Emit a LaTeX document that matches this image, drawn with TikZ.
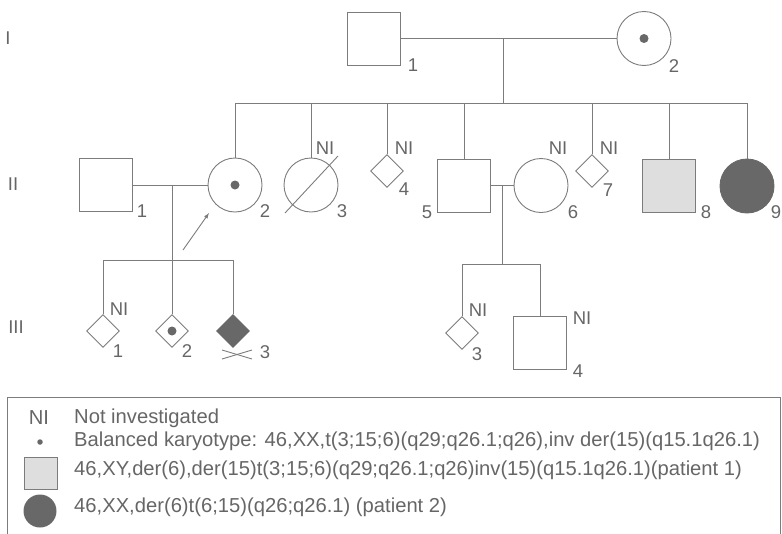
\documentclass[tikz,border=0pt]{standalone}
\usepackage{fontspec}
\setmainfont{Liberation Sans}
\usetikzlibrary{positioning,shapes.geometric}

\definecolor{pedline}{HTML}{7C7C7C}
\definecolor{pedtext}{HTML}{666666}
\definecolor{peddark}{HTML}{686868}
\definecolor{pedgrey}{HTML}{DEDEDE}

\tikzset{
  pedsquare/.style={draw=pedline, line width=0.9pt, rectangle,
    minimum size=53pt, inner sep=0pt},
  pedcircle/.style={draw=pedline, line width=0.9pt, circle,
    minimum size=54pt, inner sep=0pt},
  peddiamond/.style={draw=pedline, line width=0.9pt, diamond,
    minimum size=33pt, inner sep=0pt},
  carrier/.style={path picture={
    \fill[peddark] (path picture bounding box.center) circle (4.5pt);}},
  affected/.style={fill=peddark, draw=peddark},
  num/.style={font=\fontsize{18.5}{20}\selectfont, text=pedtext, inner sep=0pt},
  keytext/.style={font=\fontsize{20.2}{22}\selectfont, text=pedtext,
    inner sep=0pt, anchor=west},
  link/.style={draw=pedline, line width=0.9pt}
}

\begin{document}
\begin{tikzpicture}[x=1pt, y=-1pt]
  \useasboundingbox (0,0) rectangle (782,533);

  % generations
  \node[num] (gen1) at (8,38) {I};
  \node[num] (gen2) at (13,184) {II};
  \node[num] (gen3) at (16,327) {III};

  % generation I
  \node[pedsquare] (I1) at (374,38.5) {};
  \node[pedcircle, carrier] (I2) at (644,38.5) {};
  \node[num] (n-I1) at (413,65) {1};
  \node[num] (n-I2) at (674,66) {2};

  % generation II
  \node[pedsquare] (II1) at (105.5,185) {};
  \node[pedcircle, carrier] (II2) at (235,185) {};
  \node[pedcircle] (II3) at (311,185) {};
  \node[peddiamond] (II4) at (387,171) {};
  \node[pedsquare] (II5) at (464,185.5) {};
  \node[pedcircle] (II6) at (541,185.5) {};
  \node[peddiamond] (II7) at (592,171) {};
  \node[pedsquare, fill=pedgrey] (II8) at (669,185.5) {};
  \node[pedcircle, affected] (II9) at (747,186) {};

  \node[num] (n-II1) at (142,211) {1};
  \node[num] (n-II2) at (265,211) {2};
  \node[num] (n-II3) at (342,211) {3};
  \node[num] (n-II4) at (404,189) {4};
  \node[num] (n-II5) at (427,212) {5};
  \node[num] (n-II6) at (573,212) {6};
  \node[num] (n-II7) at (608,190) {7};
  \node[num] (n-II8) at (706,212) {8};
  \node[num] (n-II9) at (776,212) {9};

  \node[num] (ni-II3) at (325,148) {NI};
  \node[num] (ni-II4) at (404,148) {NI};
  \node[num] (ni-II6) at (558,148) {NI};
  \node[num] (ni-II7) at (609,148) {NI};

  % deceased
  \draw[link] ([shift={(-26,28)}]II3.center) -- ([shift={(27,-29)}]II3.center);

  % generation III
  \node[peddiamond] (III1) at (103,331) {};
  \node[peddiamond, carrier] (III2) at (172,331) {};
  \node[peddiamond, affected] (III3) at (233,331) {};
  \node[peddiamond] (IIIb3) at (462,333) {};
  \node[pedsquare] (IIIb4) at (540,342.5) {};

  \node[num] (n-III1) at (118,351) {1};
  \node[num] (n-III2) at (187,351) {2};
  \node[num] (n-III3) at (265,352) {3};
  \node[num] (n-IIIb3) at (477,354) {3};
  \node[num] (n-IIIb4) at (578,371) {4};

  \node[num] (ni-III1) at (119,309) {NI};
  \node[num] (ni-IIIb3) at (478,310) {NI};
  \node[num] (ni-IIIb4) at (582,318) {NI};

  % miscarriage cross
  \draw[link] ([shift={(-11,19)}]III3.center) -- ([shift={(19,28)}]III3.center);
  \draw[link] ([shift={(-11,28)}]III3.center) -- ([shift={(19,19)}]III3.center);

  % family I
  \coordinate (m1) at (503,38.5);
  \coordinate (s1) at (503,103);
  \draw[link] (I1) -- (I2);
  \draw[link] (m1) -- (s1);
  \draw[link] (II2.north) |- (II9.north |- s1) -- (II9.north);
  \foreach \k in {3,4,5,7,8}
    \draw[link] (II\k.north) -- (II\k.north |- s1);

  % family II-1 x II-2
  \coordinate (m2) at (172,185);
  \coordinate (s2) at (172,260);
  \draw[link] (II1) -- (II2);
  \draw[link] (m2) -- (III2.north);
  \draw[link] (III1.north) |- (III3.north |- s2) -- (III3.north);

  % family II-5 x II-6
  \coordinate (m3) at (502,185.5);
  \coordinate (s3) at (502,264);
  \draw[link] (II5) -- (II6);
  \draw[link] (m3) -- (s3);
  \draw[link] (IIIb3.north) |- (IIIb4.north |- s3) -- (IIIb4.north);

  % proband arrow
  \coordinate (arr) at (183,250);
  \draw[link, -latex] (arr) -- ([shift={(-26,28)}]II2.center);

  % key
  \draw[link] (7,397) -- (780,397) -- (780,545);
  \draw[link] (7,397) -- (7,545);
  \node[keytext, anchor=center] (key-ni) at (39,418) {NI};
  \node[circle, fill=peddark, inner sep=0pt, minimum size=5.5pt] (key-dot) at (40,442) {};
  \node[rectangle, draw=pedline, line width=0.9pt, fill=pedgrey, inner sep=0pt,
    minimum width=33pt, minimum height=32pt] (key-grey) at (40.5,473) {};
  \node[circle, fill=peddark, inner sep=0pt, minimum size=33pt] (key-dark) at (40,511) {};
  \node[keytext] (t-ni) at (74,418) {Not investigated};
  \node[keytext] (t-dot) at (74,441) {Balanced karyotype: 46,XX,t(3;15;6)(q29;q26.1;q26),inv der(15)(q15.1q26.1)};
  \node[keytext] (t-grey) at (74,470) {46,XY,der(6),der(15)t(3;15;6)(q29;q26.1;q26)inv(15)(q15.1q26.1)(patient 1)};
  \node[keytext] (t-dark) at (74,507) {46,XX,der(6)t(6;15)(q26;q26.1) (patient 2)};
\end{tikzpicture}
\end{document}
